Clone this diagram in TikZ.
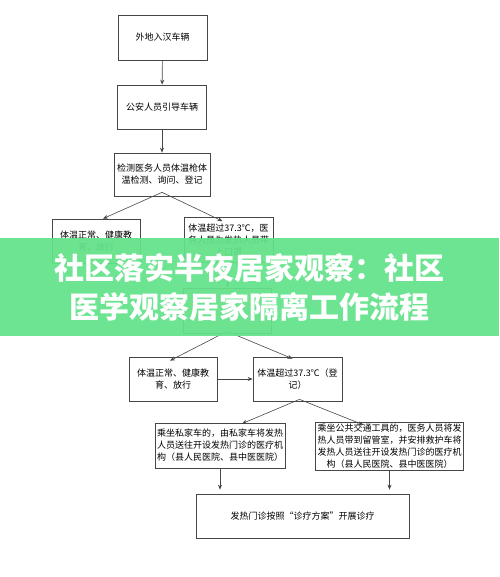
\documentclass[tikz,border=0pt]{standalone}
\usepackage{fontspec}
\newfontfamily\cjk{Noto Sans CJK SC}
\usepackage{tikz}
\usetikzlibrary{arrows.meta,positioning,calc}
\definecolor{lineGray}{RGB}{70,70,70}
\definecolor{bannerGreen}{RGB}{100,226,138}

\begin{document}
\begin{tikzpicture}[x=1pt, y=-1pt,
    box/.style={draw=lineGray, line width=0.7pt, fill=white, align=center,
      inner sep=2pt, font=\cjk\fontsize{9}{12}\selectfont},
    arr/.style={-{Stealth[length=5pt, width=4pt]}, lineGray, line width=0.6pt}]
  \useasboundingbox (0,0) rectangle (499,577);
  % Top of the flow
  \node[box, minimum width=89pt, minimum height=45pt] (car) at (162.5,37.5) {外地入汉车辆};
  \node[box, minimum width=89pt, minimum height=44pt] (police) at (162,107) {公安人员引导车辆};
  \node[box, minimum width=96pt, minimum height=43pt] (check) at (162,174.5)
    {检测医务人员体温枪体\\温检测、询问、登记};
  % First split
  \node[box, minimum width=88pt, minimum height=44pt] (normalA) at (96,241)
    {体温正常、健康教\\育、放行};
  \node[box, minimum width=89pt, minimum height=45pt] (feverA) at (228.5,240)
    {体温超过37.3℃，医\\务人员为发热人员带\\上口罩};
  \node[box, minimum width=88pt, minimum height=45pt] (recheck) at (227,310.5) {};
  % Second split
  \node[box, minimum width=88pt, minimum height=44pt] (normalB) at (173,379)
    {体温正常、健康教\\育、放行};
  \node[box, minimum width=89pt, minimum height=44pt] (feverB) at (297.5,379)
    {体温超过37.3℃（登\\记）};
  % Transport
  \node[box, minimum width=130pt, minimum height=45pt] (private) at (220,445.5)
    {乘坐私家车的，由私家车将发热\\人员送往开设发热门诊的医疗机\\构（县人民医院、县中医医院）};
  \node[box, minimum width=147pt, minimum height=43pt] (public) at (389.5,446.5)
    {乘坐公共交通工具的，医务人员将发\\热人员带到留管室，并安排救护车将\\发热人员送往开设发热门诊的医疗机\\构（县人民医院、县中医医院）};
  \node[box, minimum width=213pt, minimum height=44pt] (clinic) at (302.5,516)
    {发热门诊按照“诊疗方案”开展诊疗};
  % Arrows
  \draw[arr] (car) -- (police);
  \draw[arr] (police) -- (check);
  \draw[arr] ([yshift=4]check.south) -- ([xshift=7]normalA.north);
  \draw[arr] ([yshift=4]check.south) -- ([xshift=-6,yshift=-4]feverA.north);
  \draw[arr] (feverA) -- (recheck);
  \draw[arr] ([yshift=2]recheck.south) -- ([xshift=-3,yshift=-4]normalB.north);
  \draw[arr] ([yshift=2]recheck.south) -- ([xshift=-5,yshift=-2]feverB.north);
  \draw[arr] (normalB) -- (feverB);
  \draw[arr] ([xshift=2,yshift=2]feverB.south) -- ([xshift=22,yshift=-1]private.north);
  \draw[arr] ([xshift=2,yshift=2]feverB.south) -- ([xshift=-26,yshift=-3]public.north);
  \draw[arr, shorten >=4pt] (private.south) -- (private.south |- clinic.north);
  \draw[arr, shorten >=4pt] (public.south) -- (public.south |- clinic.north);
  % Title banner
  \fill[bannerGreen, fill opacity=0.94] (0,238) rectangle (499,336);
  \node[white, align=center, font=\cjk\bfseries\fontsize{30}{39}\selectfont] (banner)
    at (249,287.5) {社区落实半夜居家观察：社区\\医学观察居家隔离工作流程};
\end{tikzpicture}
\end{document}
